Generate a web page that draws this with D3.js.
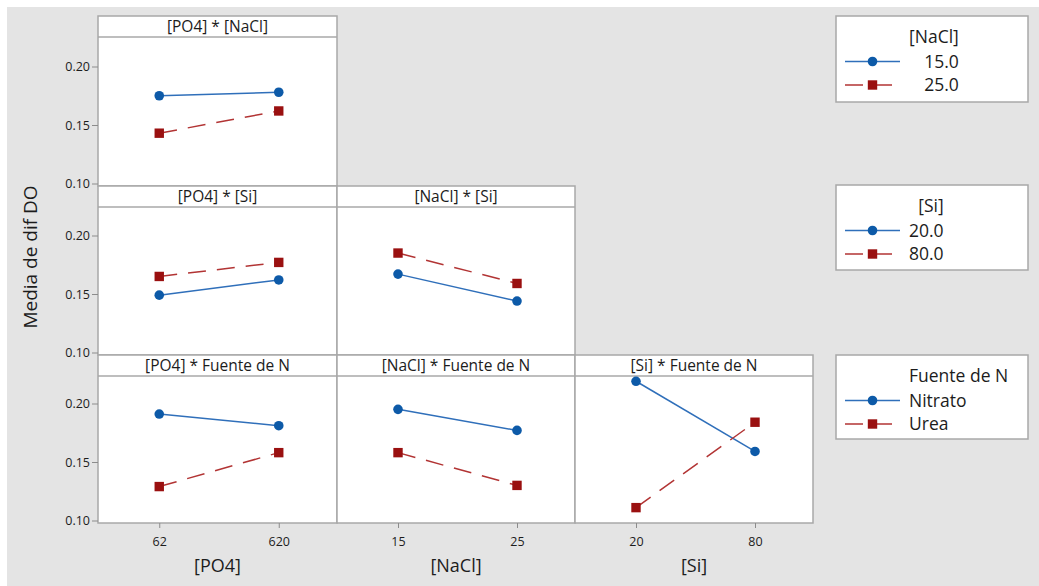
<!DOCTYPE html>
<html>
<head>
<meta charset="utf-8">
<script src="https://cdn.jsdelivr.net/npm/d3@7"></script>
<style>
  html, body { margin: 0; padding: 0; background: #ffffff; }
  svg { display: block; }
  text { font-family: "Open Sans", "DejaVu Sans", sans-serif; fill: #1c1c1c; }
</style>
</head>
<body>
<script>
// Factor levels
const po4Levels = ["62", "620"];
const naclLevels = ["15", "25"];
const siLevels = ["20", "80"];

// Interaction means (Media de dif DO)
const po4NaCl15 = [0.175, 0.178];
const po4NaCl25 = [0.143, 0.162];
const po4Si20 = [0.149, 0.162];
const po4Si80 = [0.165, 0.177];
const naclSi20 = [0.167, 0.144];
const naclSi80 = [0.185, 0.159];
const po4Nitrato = [0.191, 0.181];
const po4Urea = [0.129, 0.158];
const naclNitrato = [0.195, 0.177];
const naclUrea = [0.158, 0.130];
const siNitrato = [0.219, 0.159];
const siUrea = [0.111, 0.184];

// Axis ticks and labels
const yTicks = [0.10, 0.15, 0.20];
const xTitles = ["[PO4]", "[NaCl]", "[Si]"];
const yTitle = "Media de dif DO";

// Legend contents
const legendTitles = ["[NaCl]", "[Si]", "Fuente de N"];
const legendNaCl = ["15.0", "25.0"];
const legendSi = ["20.0", "80.0"];
const legendFuente = ["Nitrato", "Urea"];

const W = 1039, H = 586;
const BLUE_LINE = "#2f6fba", BLUE_MARK = "#0d5aa8";
const RED_LINE = "#b23434", RED_MARK = "#9a1010";
const BORDER = "#a8a8a8";
const DASH = "18,11";

const svg = d3.select("body").append("svg").attr("width", W).attr("height", H);
svg.append("rect").attr("x", 0).attr("y", 0).attr("width", W).attr("height", H).attr("fill", "#ffffff");
svg.append("rect").attr("x", 7).attr("y", 7).attr("width", W - 7).attr("height", H - 7).attr("fill", "#e4e4e4");

// Grid of panels
const colEdges = [98, 337, 575, 813];
const rowEdges = [16, 186, 355, 523];
const stripH = 21;
const levelsByCol = [po4Levels, naclLevels, siLevels];

const panels = [
  { row: 0, col: 0, title: "[PO4] * [NaCl]", s1: po4NaCl15, s2: po4NaCl25 },
  { row: 1, col: 0, title: "[PO4] * [Si]", s1: po4Si20, s2: po4Si80 },
  { row: 1, col: 1, title: "[NaCl] * [Si]", s1: naclSi20, s2: naclSi80 },
  { row: 2, col: 0, title: "[PO4] * Fuente de N", s1: po4Nitrato, s2: po4Urea },
  { row: 2, col: 1, title: "[NaCl] * Fuente de N", s1: naclNitrato, s2: naclUrea },
  { row: 2, col: 2, title: "[Si] * Fuente de N", s1: siNitrato, s2: siUrea }
];

function xScaleFor(col) {
  return d3.scalePoint().domain(levelsByCol[col])
    .range([colEdges[col] + 1.5, colEdges[col + 1] + 1.5]).padding(0.5);
}
function yScaleFor(row) {
  const b = rowEdges[row + 1] - 2.5;
  return d3.scaleLinear().domain([0.10, 0.20]).range([b, b - 117]);
}

function circleMark(g, x, y) {
  g.append("circle").attr("cx", x).attr("cy", y).attr("r", 4.8).attr("fill", BLUE_MARK);
}
function squareMark(g, x, y) {
  g.append("rect").attr("x", x - 4.7).attr("y", y - 4.7).attr("width", 9.4).attr("height", 9.4).attr("fill", RED_MARK);
}

panels.forEach(p => {
  const x0 = colEdges[p.col], x1 = colEdges[p.col + 1];
  const y0 = rowEdges[p.row], y1 = rowEdges[p.row + 1];
  const g = svg.append("g");
  g.append("rect").attr("x", x0).attr("y", y0).attr("width", x1 - x0).attr("height", y1 - y0)
    .attr("fill", "#ffffff").attr("stroke", BORDER).attr("stroke-width", 1.5);
  g.append("line").attr("x1", x0).attr("x2", x1).attr("y1", y0 + stripH).attr("y2", y0 + stripH)
    .attr("stroke", BORDER).attr("stroke-width", 1.5);
  g.append("text").attr("x", (x0 + x1) / 2).attr("y", y0 + stripH / 2 + 0.5).attr("dy", "0.35em")
    .attr("text-anchor", "middle").style("font-size", "15.5px").text(p.title);

  const xs = xScaleFor(p.col), ys = yScaleFor(p.row);
  const lv = levelsByCol[p.col];
  const line = d3.line().x((d, i) => xs(lv[i])).y(d => ys(d));

  g.append("path").datum(p.s1).attr("d", line).attr("fill", "none")
    .attr("stroke", BLUE_LINE).attr("stroke-width", 1.5);
  g.append("path").datum(p.s2).attr("d", line).attr("fill", "none")
    .attr("stroke", RED_LINE).attr("stroke-width", 1.5).attr("stroke-dasharray", DASH);
  p.s1.forEach((v, i) => circleMark(g, xs(lv[i]), ys(v)));
  p.s2.forEach((v, i) => squareMark(g, xs(lv[i]), ys(v)));
});

// Y axes on the first column
[0, 1, 2].forEach(row => {
  const ax = svg.append("g").attr("transform", `translate(${colEdges[0]},0)`)
    .call(d3.axisLeft(yScaleFor(row)).tickValues(yTicks).tickFormat(d3.format(".2f"))
      .tickSize(6).tickPadding(2));
  ax.select(".domain").remove();
  ax.selectAll(".tick line").attr("stroke", "#8c8c8c");
  ax.selectAll(".tick text").style("font-size", "12.5px").style("font-family", null).attr("fill", null);
});

// X axes under the bottom row
[0, 1, 2].forEach(col => {
  const ax = svg.append("g").attr("transform", `translate(0,${rowEdges[3]})`)
    .call(d3.axisBottom(xScaleFor(col)).tickSize(5).tickPadding(9));
  ax.select(".domain").remove();
  ax.selectAll(".tick line").attr("stroke", "#8c8c8c");
  ax.selectAll(".tick text").style("font-size", "12.5px").style("font-family", null).attr("fill", null);
  svg.append("text").attr("x", (colEdges[col] + colEdges[col + 1]) / 2).attr("y", 566).attr("dy", "0.35em")
    .attr("text-anchor", "middle").style("font-size", "18px").text(xTitles[col]);
});

svg.append("text").attr("transform", "translate(30,257) rotate(-90)").attr("dy", "0.35em")
  .attr("text-anchor", "middle").style("font-size", "19px").text(yTitle);

// Legends
const legends = [
  { top: 16, h: 86, title: legendTitles[0], items: legendNaCl, numeric: true },
  { top: 185, h: 85, title: legendTitles[1], items: legendSi, numeric: true },
  { top: 355, h: 84, title: legendTitles[2], items: legendFuente, numeric: false }
];
const lgX = 836, lgW = 192, textX = 909;

legends.forEach(L => {
  const g = svg.append("g");
  g.append("rect").attr("x", lgX).attr("y", L.top).attr("width", lgW).attr("height", L.h)
    .attr("fill", "#ffffff").attr("stroke", BORDER).attr("stroke-width", 1.5);
  const labels = [L.title].concat(L.items);
  const nodes = labels.map((t, i) => g.append("text")
    .attr("y", L.top + [21, 45.5, 69][i]).attr("dy", "0.35em")
    .style("font-size", "17.5px").text(t));
  if (L.numeric) {
    const widest = d3.max(nodes, n => n.node().getComputedTextLength());
    nodes.forEach(n => n.attr("x", textX + widest).attr("text-anchor", "end"));
  } else {
    nodes.forEach(n => n.attr("x", textX));
  }
  const yA = L.top + 45.5, yB = L.top + 69;
  g.append("line").attr("x1", 845).attr("x2", 900).attr("y1", yA).attr("y2", yA)
    .attr("stroke", BLUE_LINE).attr("stroke-width", 1.5);
  g.append("line").attr("x1", 845).attr("x2", 900).attr("y1", yB).attr("y2", yB)
    .attr("stroke", RED_LINE).attr("stroke-width", 1.5).attr("stroke-dasharray", DASH);
  circleMark(g, 872.5, yA);
  squareMark(g, 872.5, yB);
});
</script>
</body>
</html>
